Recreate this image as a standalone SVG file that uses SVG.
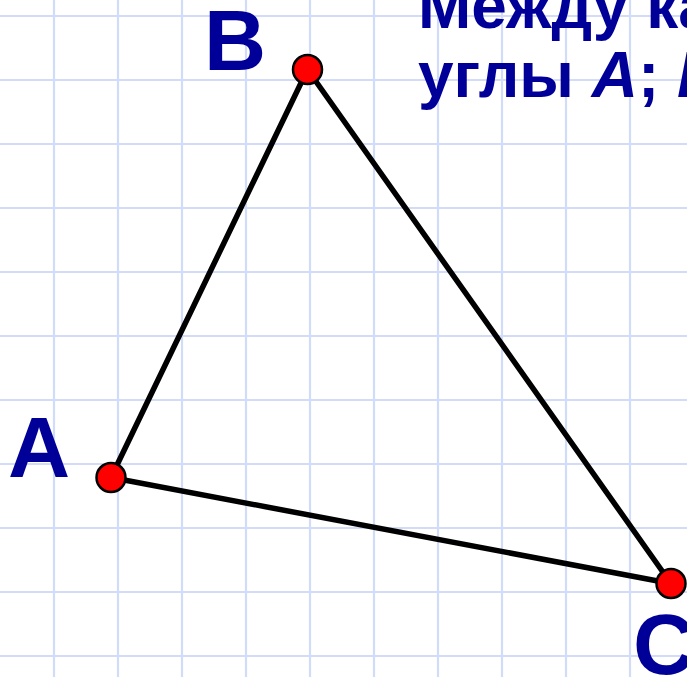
<svg xmlns="http://www.w3.org/2000/svg" width="687" height="677" viewBox="0 0 687 677">
<style>
.grid line{stroke:#d2dcf8;stroke-width:2.2}
.lbl{font-family:"Liberation Sans",Arial,sans-serif;font-weight:bold;fill:#000099}
.edge{stroke:#000;stroke-width:5.5;stroke-linecap:round;fill:none}
.pt{fill:#ff0000;stroke:#000;stroke-width:2.5}
</style>
<rect width="687" height="677" fill="#fff"/>
<g class="grid">
<line x1="54" y1="0" x2="54" y2="677"/>
<line x1="118" y1="0" x2="118" y2="677"/>
<line x1="182" y1="0" x2="182" y2="677"/>
<line x1="246" y1="0" x2="246" y2="677"/>
<line x1="310" y1="0" x2="310" y2="677"/>
<line x1="374" y1="0" x2="374" y2="677"/>
<line x1="438" y1="0" x2="438" y2="677"/>
<line x1="502" y1="0" x2="502" y2="677"/>
<line x1="566" y1="0" x2="566" y2="677"/>
<line x1="630" y1="0" x2="630" y2="677"/>
<line x1="0" y1="16" x2="687" y2="16"/>
<line x1="0" y1="80" x2="687" y2="80"/>
<line x1="0" y1="144" x2="687" y2="144"/>
<line x1="0" y1="208" x2="687" y2="208"/>
<line x1="0" y1="272" x2="687" y2="272"/>
<line x1="0" y1="336" x2="687" y2="336"/>
<line x1="0" y1="400" x2="687" y2="400"/>
<line x1="0" y1="464" x2="687" y2="464"/>
<line x1="0" y1="528" x2="687" y2="528"/>
<line x1="0" y1="592" x2="687" y2="592"/>
<line x1="0" y1="656" x2="687" y2="656"/>
</g>
<g id="title">
<text class="lbl" x="418" y="28" font-size="64">Между ка</text>
<text class="lbl" x="418" y="97" font-size="64">углы <tspan font-style="italic">A</tspan>; <tspan font-style="italic">B</tspan></text>
</g>
<g id="connectors">
<line class="edge" x1="111" y1="477.5" x2="307.5" y2="69.5"/>
<line class="edge" x1="307.5" y1="69.5" x2="671" y2="583.5"/>
<line class="edge" x1="111" y1="477.5" x2="671" y2="583.5"/>
</g>
<g id="A">
<circle class="pt" cx="111" cy="477.5" r="14.5"/>
<text class="lbl" x="8" y="477" font-size="86">A</text>
</g>
<g id="B">
<circle class="pt" cx="307.5" cy="69.5" r="14.5"/>
<text class="lbl" x="204" y="70" font-size="86">B</text>
</g>
<g id="C">
<circle class="pt" cx="671" cy="583.5" r="14.5"/>
<text class="lbl" x="633" y="674" font-size="86">C</text>
</g>
</svg>
